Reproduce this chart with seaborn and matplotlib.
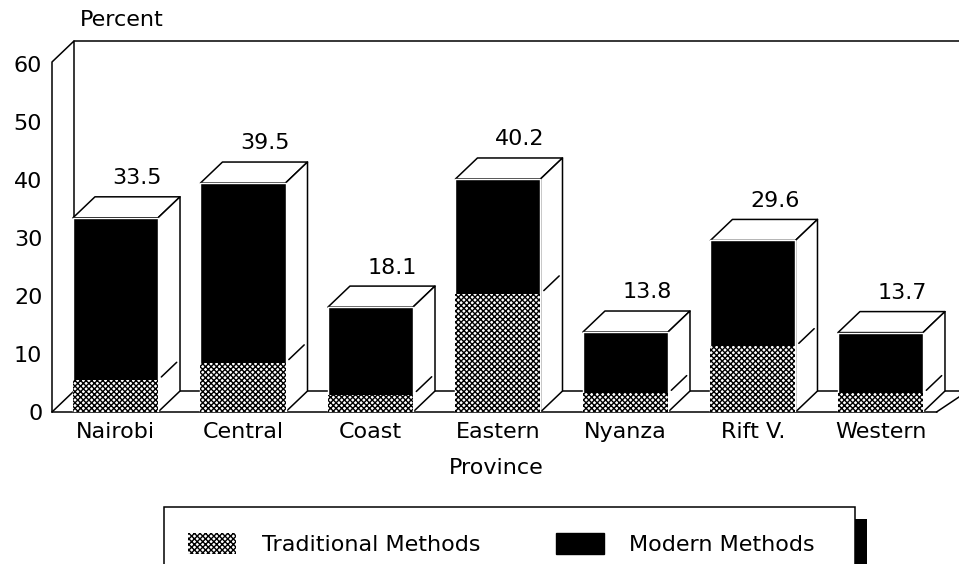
import matplotlib
matplotlib.use("Agg")
import matplotlib.pyplot as plt
import seaborn as sns
from matplotlib.patches import Patch, Polygon, Rectangle

# values
provinces = ["Nairobi", "Central", "Coast", "Eastern", "Nyanza", "Rift V.", "Western"]
totals = [33.5, 39.5, 18.1, 40.2, 13.8, 29.6, 13.7]
traditional = [5.5, 8.5, 3.0, 20.4, 3.2, 11.3, 3.2]
y_ticks = [0, 10, 20, 30, 40, 50, 60]

W, H = 959, 564
LEFT, BOTTOM, TOP = 52, 412, 41
BAR_W = 0.667
DX = 22 / 127.5   # depth of the fake 3D, in category units
DY = 21 / 5.8     # depth in percent units
FS = 16
LW = 1.1
HATCH = "xxxxxx"

sns.set_theme(style="white")
plt.rcParams["font.family"] = ["DejaVu Sans"]
plt.rcParams["hatch.linewidth"] = 1.0

fig = plt.figure(figsize=(W / 100, H / 100), dpi=100)
ax = fig.add_axes([LEFT / W, 1 - BOTTOM / H, (W - LEFT) / W, (BOTTOM - TOP) / H])

# stacked bars: full height in black, traditional part over it
sns.barplot(x=provinces, y=totals, color="black", saturation=1, width=BAR_W, ax=ax, zorder=3)
sns.barplot(x=provinces, y=traditional, color="white", saturation=1, width=BAR_W,
            edgecolor="black", linewidth=0, hatch=HATCH, ax=ax, zorder=3)

ax.set_xlim(-0.498, 6.616)
ax.set_ylim(0, 64)
sns.despine(ax=ax, left=True, bottom=True, top=True, right=True)

# walls and floor
ymax = ax.get_ylim()[1]
xmin, xmax = ax.get_xlim()
wall = dict(color="black", lw=LW, clip_on=False, zorder=1)
ax.plot([xmin, xmin, xmin + DX, xmin + DX], [0, ymax - DY, ymax, DY], **wall)
ax.plot([xmin + DX, xmax], [ymax, ymax], **wall)
ax.plot([xmin + DX, xmax], [DY, DY], **wall)
ax.plot([xmin, xmin + DX], [0, DY], **wall)
last_x = len(provinces) - 1 + BAR_W / 2
ax.plot([xmin, last_x + DX / 2 + 0.02], [0, 0], **wall)
ax.plot([last_x + DX / 2 + 0.02, last_x + DX + 0.18], [0, DY], **wall)

# top and side faces of each bar
for i, (total, trad) in enumerate(zip(totals, traditional)):
    x0, x1 = i - BAR_W / 2, i + BAR_W / 2
    face = dict(facecolor="white", edgecolor="black", lw=LW, zorder=2, joinstyle="round")
    ax.add_patch(Polygon([(x0, total), (x0 + DX, total + DY), (x1 + DX, total + DY), (x1, total)], **face))
    ax.add_patch(Polygon([(x1, 0), (x1 + DX, DY), (x1 + DX, total + DY), (x1, total)], **face))
    ax.plot([x1 + DX * 0.15, x1 + DX * 0.85], [trad + DY * 0.15, trad + DY * 0.85],
            color="black", lw=LW, zorder=2)
    ax.text(i + DX, total + DY + 3.2, f"{total}", ha="center", va="center", fontsize=FS, color="black")

ax.set_yticks(y_ticks)
ax.tick_params(axis="both", length=0, labelsize=FS, labelcolor="black")
ax.tick_params(axis="y", pad=7)
ax.tick_params(axis="x", pad=7)
ax.set_ylabel("")
ax.set_xlabel("Province", fontsize=FS, color="black", x=0.49, labelpad=12)
fig.text(122 / W, 1 - 20 / H, "Percent", fontsize=FS, color="black", ha="center", va="center")

# legend box runs off the bottom of the page, with a black shadow on the right
fig.add_artist(Rectangle((164 / W, -0.05), 691 / W, 1 - 507 / H + 0.05, transform=fig.transFigure,
                         facecolor="white", edgecolor="black", lw=LW))
fig.add_artist(Rectangle((855 / W, -0.05), 12 / W, 1 - 519 / H + 0.05, transform=fig.transFigure,
                         facecolor="black", edgecolor="none"))
handles = [Patch(facecolor="white", edgecolor="black", hatch=HATCH, lw=0, label="Traditional Methods"),
           Patch(facecolor="black", edgecolor="black", label="Modern Methods")]
fig.legend(handles=handles, loc="center left", bbox_to_anchor=(188 / W, 1 - 544 / H), ncol=2,
           frameon=False, fontsize=FS, labelcolor="black", borderpad=0, borderaxespad=0,
           handlelength=2.16, handleheight=1.08, handletextpad=1.15, columnspacing=3.4)

fig.savefig("out.png", dpi=100)
